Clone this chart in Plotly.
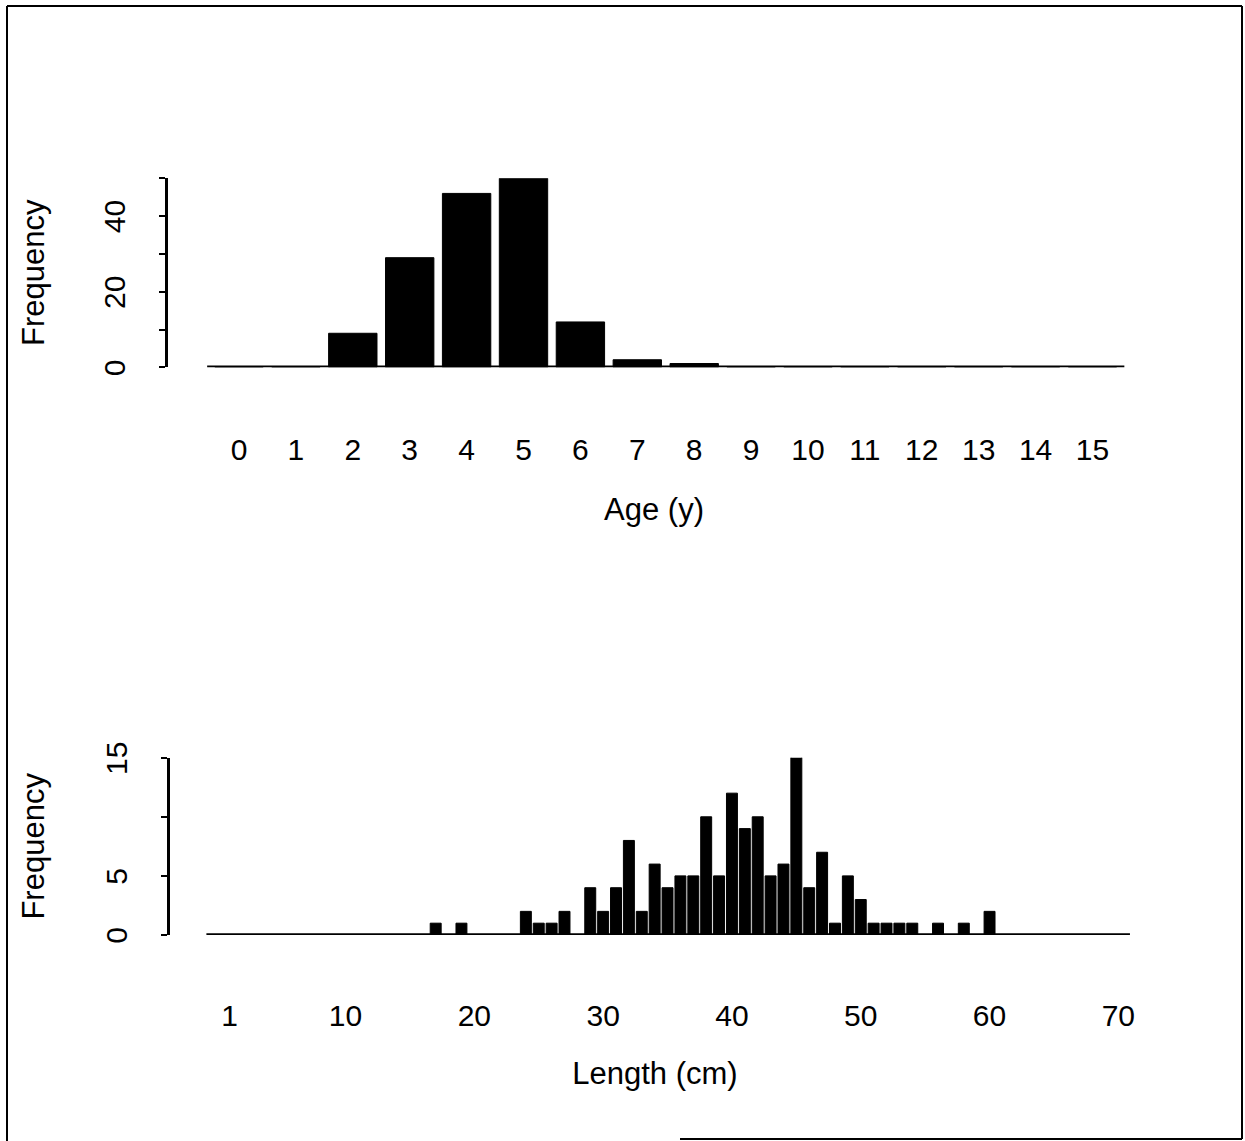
import plotly.graph_objects as go

# ---- data ----
ages = list(range(0, 16))
age_counts = [0, 0, 9, 29, 46, 50, 12, 2, 1, 0, 0, 0, 0, 0, 0, 0]
age_labels = [str(a) for a in ages]
age_ytickvals = [0, 10, 20, 30, 40, 50]
age_yticktext = ["0", "", "20", "", "40", ""]

lengths = list(range(1, 71))
length_counts = [
    0, 0, 0, 0, 0, 0, 0, 0, 0, 0,      # 1-10
    0, 0, 0, 0, 0, 0, 1, 0, 1, 0,      # 11-20
    0, 0, 0, 2, 1, 1, 2, 0, 4, 2,      # 21-30
    4, 8, 2, 6, 4, 5, 5, 10, 5, 12,    # 31-40
    9, 10, 5, 6, 16, 4, 7, 1, 5, 3,    # 41-50
    1, 1, 1, 1, 0, 1, 0, 1, 0, 2,      # 51-60
    0, 0, 0, 0, 0, 0, 0, 0, 0, 0,      # 61-70
]
length_tickvals = [1, 10, 20, 30, 40, 50, 60, 70]
length_ticktext = ["1", "10", "20", "30", "40", "50", "60", "70"]
length_ytickvals = [0, 5, 10, 15]
length_yticktext = ["0", "5", "", "15"]

W, H = 1245, 1141
FONT = "Liberation Sans, Arial, Helvetica, sans-serif"
TICK_SIZE = 30
TITLE_SIZE = 31

fig = go.Figure()

# top: age histogram
fig.add_trace(go.Bar(x=ages, y=age_counts, marker=dict(color="black", line=dict(color="black", width=1)),
                     xaxis="x", yaxis="y", cliponaxis=False, showlegend=False, hoverinfo="x+y"))
fig.add_trace(go.Scatter(x=[ages[0] - 0.56, ages[-1] + 0.56], y=[0, 0], mode="lines",
                         line=dict(color="black", width=3.5), xaxis="x", yaxis="y",
                         showlegend=False, hoverinfo="skip", cliponaxis=False))

# bottom: length histogram
fig.add_trace(go.Bar(x=lengths, y=length_counts, marker=dict(color="black", line=dict(color="black", width=1)),
                     xaxis="x2", yaxis="y2", cliponaxis=False, showlegend=False, hoverinfo="x+y"))
fig.add_trace(go.Scatter(x=[lengths[0] - 1.8, lengths[-1] + 0.9], y=[0, 0], mode="lines",
                         line=dict(color="black", width=3.5), xaxis="x2", yaxis="y2",
                         showlegend=False, hoverinfo="skip", cliponaxis=False))

common_x = dict(showline=False, ticks="", showgrid=False, zeroline=False, automargin=False,
                tickfont=dict(size=TICK_SIZE, color="black", family=FONT), tickangle=0)
common_y = dict(showline=True, linecolor="black", linewidth=2.5, ticks="outside", ticklen=6,
                tickwidth=2, tickcolor="black", showgrid=False, zeroline=False, tickangle=-90,
                automargin=False, ticklabelshift=5,
                tickfont=dict(size=TICK_SIZE, color="black", family=FONT))

fig.update_layout(
    width=W, height=H, autosize=False,
    margin=dict(l=0, r=0, t=0, b=0, pad=0, autoexpand=False),
    paper_bgcolor="white", plot_bgcolor="white",
    font=dict(family=FONT, color="black"),
    bargap=0.15,
    xaxis=dict(domain=[168 / W, 1140 / W], range=[-1.248, 15.835], anchor="y",
               tickmode="array", tickvals=ages, ticktext=age_labels, ticklabelstandoff=62,
               title=dict(text="Age (y)", font=dict(size=TITLE_SIZE, family=FONT, color="black"), standoff=33),
               **common_x),
    yaxis=dict(domain=[(H - 367.3) / H, (H - 178.3) / H], range=[0, 50], anchor="x",
               tickmode="array", tickvals=age_ytickvals, ticktext=age_yticktext, ticklabelstandoff=22,
               title=dict(text="Frequency", font=dict(size=TITLE_SIZE, family=FONT, color="black"), standoff=45),
               **common_y),
    xaxis2=dict(domain=[170 / W, 1140 / W], range=[-3.627, 71.68], anchor="y2",
                tickmode="array", tickvals=length_tickvals, ticktext=length_ticktext, ticklabelstandoff=60,
                title=dict(text="Length (cm)", font=dict(size=TITLE_SIZE, family=FONT, color="black"), standoff=31),
                **common_x),
    yaxis2=dict(domain=[(H - 935) / H, (H - 757.7) / H], range=[0, 15], anchor="x2",
                tickmode="array", tickvals=length_ytickvals, ticktext=length_yticktext, ticklabelstandoff=22,
                title=dict(text="Frequency", font=dict(size=TITLE_SIZE, family=FONT, color="black"), standoff=47),
                **common_y),
)

# scanned page frame
frame = dict(type="line", xref="paper", yref="paper", line=dict(color="black", width=2))
fig.add_shape(x0=7 / W, x1=1242 / W, y0=(H - 6) / H, y1=(H - 6) / H, **frame)
fig.add_shape(x0=7 / W, x1=7 / W, y0=(H - 6) / H, y1=0, **frame)
fig.add_shape(x0=1242 / W, x1=1242 / W, y0=(H - 6) / H, y1=(H - 1139) / H, **frame)
fig.add_shape(x0=680 / W, x1=1242 / W, y0=(H - 1139) / H, y1=(H - 1139) / H, **frame)

fig.write_html(
    "out.html",
    config={"displayModeBar": False},
    post_script="document.body.style.margin='0px';",
)
